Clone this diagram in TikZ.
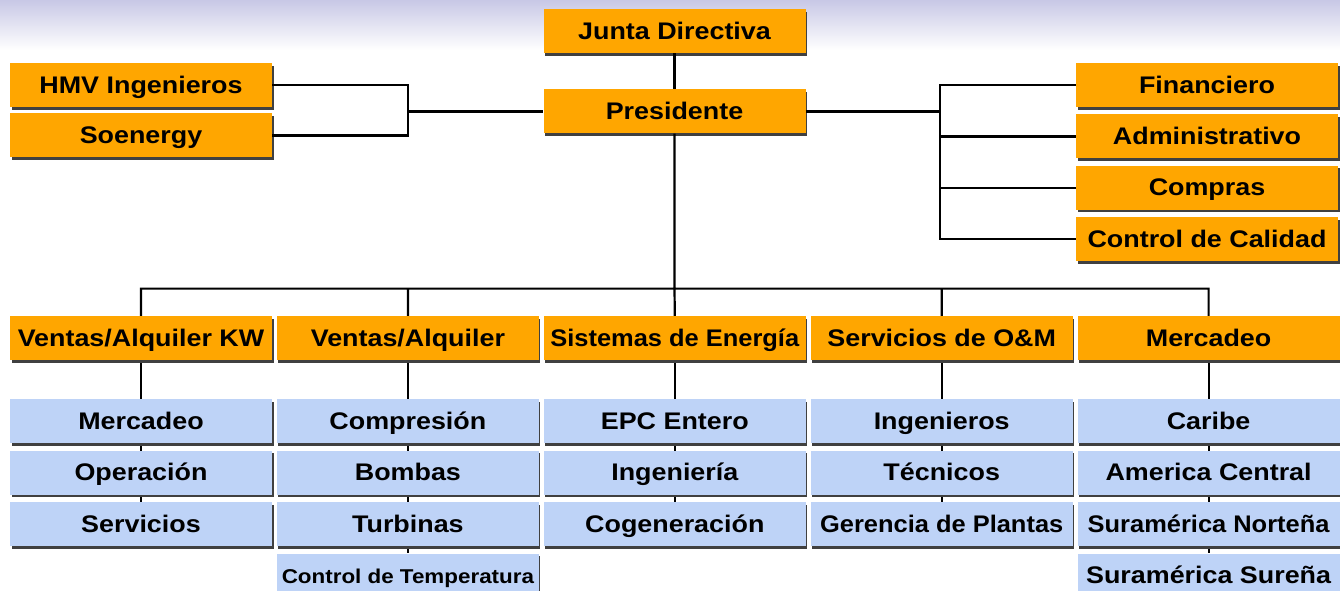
\documentclass[tikz,border=0pt]{standalone}
\usepackage{fontspec}
\setmainfont{Liberation Sans}[FakeStretch=1.12]
\newfontfamily\narrowfont{Liberation Sans}[FakeStretch=1.06]
\usetikzlibrary{positioning,shadows,backgrounds}
\definecolor{headclr}{RGB}{255,166,0}
\definecolor{subclr}{RGB}{190,211,247}
\definecolor{skyclr}{RGB}{200,200,230}
\tikzset{ %
  ,every node/.style={font=\bfseries\fontsize{24}{28}\selectfont}
  ,box/.style={inner sep=1pt, minimum width=262pt, minimum height=44pt, text height=17pt, text depth=1pt,
     general shadow={fill=black!75, shadow xshift=1.5pt, shadow yshift=-2.5pt}}
  ,head/.style={box, fill=headclr}
  ,sub/.style={box, fill=subclr}
  ,small/.style={font=\bfseries\fontsize{20}{24}\selectfont}
  ,narrow/.style={font=\narrowfont\bfseries\fontsize{24}{28}\selectfont}
  ,link/.style={line width=2.2pt}
}
\begin{document}
\begin{tikzpicture}[x=1pt, y=1pt]
      \useasboundingbox (0,0) rectangle (1340,-590);
      \shade[top color=skyclr, bottom color=white] (0,0) rectangle (1340,-50);
      % top of the chart
      \draw
      node[head] (JD) at (674.5,-31) {Junta Directiva}
      node[head, below=36pt of JD] (P) {Presidente}
      node[head] (HMV) at (141,-85) {HMV Ingenieros}
      node[head, below=6pt of HMV] (SOE) {Soenergy}
      node[head] (FIN) at (1207,-85) {Financiero}
      node[head, below=7pt of FIN] (ADM) {Administrativo}
      node[head, below=7pt of ADM] (COM) {Compras}
      node[head, below=7pt of COM] (CC) {Control de Calidad};
      % divisions
      \draw
      node[head] (VK) at (141,-338) {Ventas/Alquiler KW}
      node[head, right=4.5pt of VK] (VA) {Ventas/Alquiler}
      node[head, narrow, right=4.5pt of VA] (SE) {Sistemas de Energía}
      node[head, right=4.5pt of SE] (OM) {Servicios de O\&M}
      node[head, right=4.5pt of OM] (MK) {Mercadeo};
      % units
      \draw
      node[sub, below=39pt of VK] (VK1) {Mercadeo}
      node[sub, below=7pt of VK1] (VK2) {Operación}
      node[sub, below=7pt of VK2] (VK3) {Servicios}
      node[sub, below=39pt of VA] (VA1) {Compresión}
      node[sub, below=7pt of VA1] (VA2) {Bombas}
      node[sub, below=7pt of VA2] (VA3) {Turbinas}
      node[sub, small, below=7pt of VA3] (VA4) {Control de Temperatura}
      node[sub, below=39pt of SE] (SE1) {EPC Entero}
      node[sub, below=7pt of SE1] (SE2) {Ingeniería}
      node[sub, below=7pt of SE2] (SE3) {Cogeneración}
      node[sub, below=39pt of OM] (OM1) {Ingenieros}
      node[sub, below=7pt of OM1] (OM2) {Técnicos}
      node[sub, narrow, below=7pt of OM2] (OM3) {Gerencia de Plantas}
      node[sub, below=39pt of MK] (MK1) {Caribe}
      node[sub, below=7pt of MK1] (MK2) {America Central}
      node[sub, narrow, below=7pt of MK2] (MK3) {Suramérica Norteña}
      node[sub, below=7pt of MK3] (MK4) {Suramérica Sureña};
      % connectors
      \coordinate (LJ) at ([xshift=-135pt]P.west);
      \coordinate (RJ) at ([xshift=134pt]P.east);
      \coordinate (BAR) at ([yshift=-155pt]P.south);
      \draw [link] (JD) -- (P);
      \draw [link] (HMV.east) -| (LJ) |- (SOE.east) (LJ) -- (P.west);
      \draw [link] (P.east) -- (RJ) (FIN.west) -| (RJ |- CC.west) -- (CC.west)
        (ADM.west) -- (RJ |- ADM.west) (COM.west) -- (RJ |- COM.west);
      \draw [link] (P.south) -- (BAR) (VK.north) |- (BAR) -| (MK.north)
        (VA.north) -- (VA |- BAR) (OM.north) -- (OM |- BAR) (BAR) -- (SE.north);
      \begin{scope}[on background layer]
        \draw [link] (VK) -- (VK3) (VA) -- (VA4) (SE) -- (SE3) (OM) -- (OM3) (MK) -- (MK4);
      \end{scope}
    \end{tikzpicture}
\end{document}
